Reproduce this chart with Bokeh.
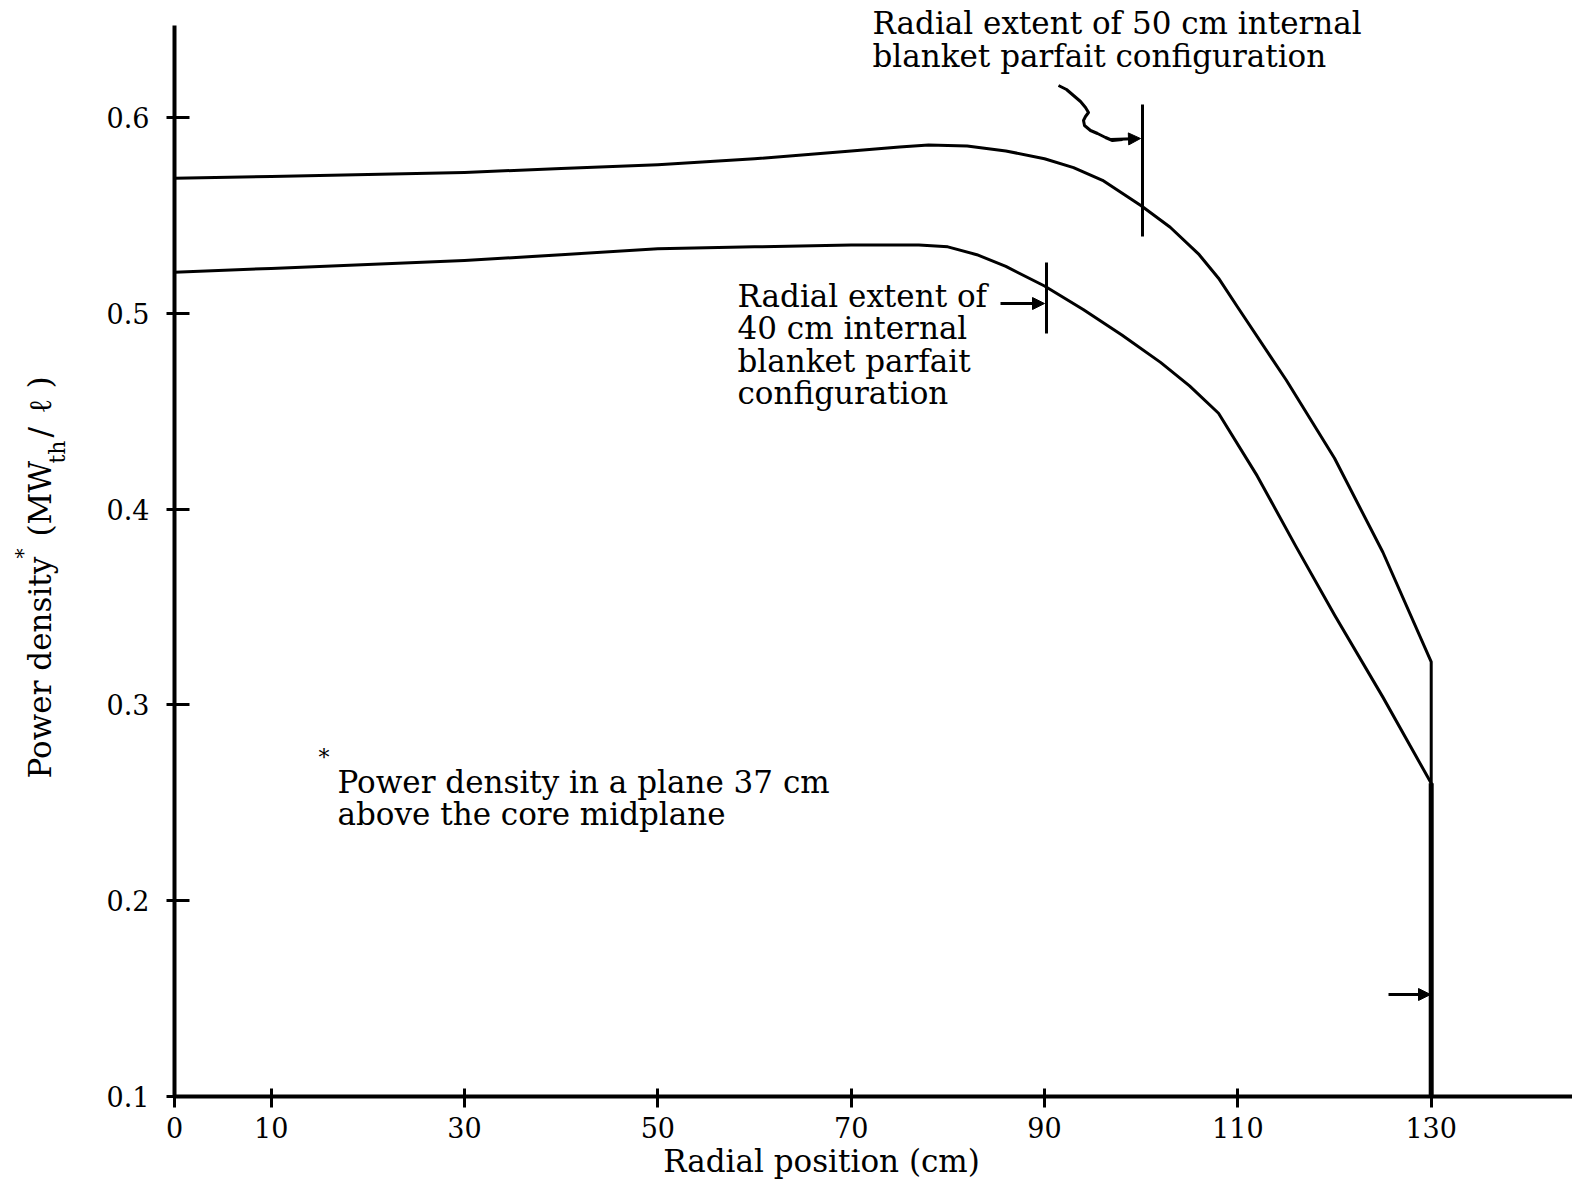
import math
from bokeh.plotting import figure
from bokeh.models import (Label, FixedTicker, PrintfTickFormatter, Arrow, NormalHead,
                          Range1d, LinearAxis)
from bokeh.embed import file_html
from bokeh.resources import INLINE

# ---------------- data ----------------
x_ticks = [0, 10, 30, 50, 70, 90, 110, 130]
y_ticks = [0.1, 0.2, 0.3, 0.4, 0.5, 0.6]

# 50 cm internal blanket parfait configuration (upper curve)
x_upper = [0, 10, 20, 30, 40, 50, 60, 70, 75, 78, 82, 86, 90, 93, 96, 100, 103, 106, 108,
           110, 115, 120, 125, 130, 130]
y_upper = [0.569, 0.570, 0.571, 0.572, 0.574, 0.576, 0.579, 0.583, 0.585, 0.586, 0.5855, 0.583,
           0.579, 0.5745, 0.568, 0.555, 0.544, 0.530, 0.518, 0.503, 0.466, 0.426, 0.378, 0.322, 0.1]

# 40 cm internal blanket parfait configuration (lower curve)
x_lower = [0, 10, 20, 30, 40, 50, 60, 70, 77, 80, 83, 86, 90, 94, 98, 102, 105, 108,
           112, 116, 120, 125, 130, 130]
y_lower = [0.521, 0.523, 0.525, 0.527, 0.530, 0.533, 0.534, 0.535, 0.535, 0.534, 0.530, 0.524,
           0.514, 0.502, 0.489, 0.475, 0.463, 0.449, 0.417, 0.381, 0.346, 0.304, 0.260, 0.1]

FONT = "DejaVu Serif"
INK = "#000000"

# ---------------- layout ----------------
W, H = 1572, 1180
ORG_X, ORG_Y = 174.0, 1096.0        # page pixel of (x=0, y=0.1)
PX_X, PX_Y = 9.667, 1957.7          # pixels per data unit
X0, X1 = -ORG_X / PX_X, (W - ORG_X) / PX_X
Y0, Y1 = 0.1 - (H - ORG_Y) / PX_Y, 0.1 + ORG_Y / PX_Y
AXIS_TOP = 0.647
AXIS_RIGHT = X1

p = figure(width=W, height=H, x_range=Range1d(X0, X1), y_range=Range1d(Y0, Y1),
           output_backend="svg", toolbar_location=None, title=None,
           x_axis_location=None, y_axis_location=None,
           min_border_left=0, min_border_right=0, min_border_top=0, min_border_bottom=0)
p.outline_line_color = None
p.grid.visible = False
p.background_fill_color = "white"
p.border_fill_color = "white"

def DX(px):
    return (px - ORG_X) / PX_X
def DY(py):
    return 0.1 + (ORG_Y - py) / PX_Y

xaxis = LinearAxis(fixed_location=0.1, bounds=(0, AXIS_RIGHT), ticker=FixedTicker(ticks=x_ticks))
yaxis = LinearAxis(fixed_location=0, bounds=(0.1, AXIS_TOP), ticker=FixedTicker(ticks=y_ticks),
                   formatter=PrintfTickFormatter(format="%.1f"))
for ax in (xaxis, yaxis):
    ax.axis_line_width = 4
    ax.axis_line_color = INK
    ax.major_tick_line_width = 3
    ax.major_tick_line_color = INK
    ax.minor_tick_line_color = None
    ax.major_label_text_font = FONT
    ax.major_label_text_color = INK
xaxis.major_label_text_font_size = "27px"
xaxis.major_tick_in = 8
xaxis.major_tick_out = 11
xaxis.major_label_standoff = 9
yaxis.major_label_text_font_size = "27px"
yaxis.major_tick_in = 15
yaxis.major_tick_out = 8
yaxis.major_label_standoff = 17
p.add_layout(xaxis, "below")
p.add_layout(yaxis, "left")

# curves
p.line(x_upper, y_upper, line_width=3, line_color=INK, line_join="round")
p.line(x_lower, y_lower, line_width=3, line_color=INK, line_join="round")

def txt(s, px, py, size="31px", align="left", baseline="middle", angle=0.0):
    p.add_layout(Label(x=DX(px), y=DY(py), text=s, text_font=FONT, text_font_size=size,
                       text_color=INK, text_align=align, text_baseline=baseline, angle=angle))

def head(px_from, py_from, px_to, py_to):
    p.add_layout(Arrow(x_start=DX(px_from), y_start=DY(py_from), x_end=DX(px_to), y_end=DY(py_to),
                       line_width=3, line_color=INK,
                       end=NormalHead(size=12, fill_color=INK, line_color=INK, line_width=1)))

# upper annotation (50 cm)
txt("Radial extent of 50 cm internal", 872, 22)
txt("blanket parfait configuration", 872, 55)
p.line([DX(1142), DX(1142)], [DY(104), DY(236)], line_width=3, line_color=INK)
sq_x = [1058, 1066, 1073, 1080, 1085, 1088, 1085, 1083, 1084, 1090, 1097, 1105, 1112, 1122]
sq_y = [85, 89, 95, 101, 107, 112, 116, 120, 125, 130, 133, 137, 140, 139]
p.line([DX(v) for v in sq_x], [DY(v) for v in sq_y], line_width=3, line_color=INK, line_join="round")
head(1110, 139, 1140, 138)

# lower annotation (40 cm)
for s, yy in zip(["Radial extent of", "40 cm internal", "blanket parfait", "configuration"],
                 [295, 327, 360, 392]):
    txt(s, 737, yy)
p.line([DX(1046), DX(1046)], [DY(262), DY(333)], line_width=3, line_color=INK)
p.line([DX(1000), DX(1020)], [DY(303), DY(303)], line_width=3, line_color=INK)
head(1015, 303, 1044, 303)

# bottom right arrow at 130 cm
p.line([DX(1388), DX(1410)], [DY(994), DY(994)], line_width=3, line_color=INK)
head(1405, 994, 1430, 994)
# heavier stroke where both curves share the vertical drop at 130 cm
p.line([130, 130], [0.1, 0.260], line_width=5, line_color=INK)

# footnote
txt("*", 318, 757, size="22px")
txt("Power density in a plane 37 cm", 337, 781)
txt("above the core midplane", 337, 813)

# x axis title
txt("Radial position (cm)", 821, 1160, size="31px", align="center")

# y axis title (rotated pieces)
A = math.pi / 2
txt("Power density", 39, 778, size="31px", baseline="alphabetic", angle=A)
txt("*", 22, 558, size="20px", baseline="alphabetic", angle=A)
txt("(MW", 39, 536, size="31px", baseline="alphabetic", angle=A)
txt("th", 57, 463, size="22px", baseline="alphabetic", angle=A)
txt("/", 39, 437, size="31px", baseline="alphabetic", angle=A)
txt("\u2113", 39, 413, size="31px", baseline="alphabetic", angle=A)
txt(")", 39, 388, size="31px", baseline="alphabetic", angle=A)

open("out.html", "w").write(file_html(p, INLINE))
